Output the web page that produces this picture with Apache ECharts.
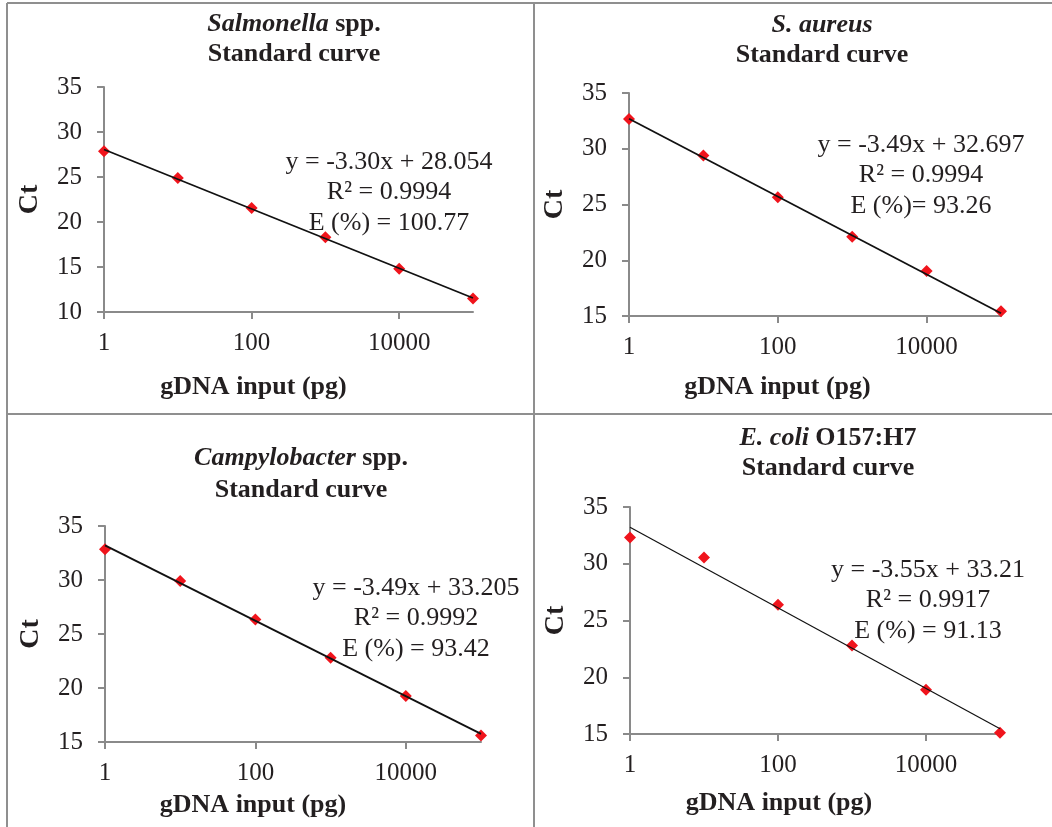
<!DOCTYPE html>
<html>
<head>
<meta charset="utf-8">
<script src="https://cdn.jsdelivr.net/npm/echarts@6/dist/echarts.min.js"></script>
<style>
html,body{margin:0;padding:0;background:#fff;}
#chart{width:1052px;height:827px;}
</style>
</head>
<body>
<div id="chart"></div>
<script>
// gDNA input (pg) levels
var inputs = [1, 10, 100, 1000, 10000, 100000];
var xTickLabels = ['1', '100', '10000'];

// Ct values
var ctSalmonella = [27.85, 24.89, 21.56, 18.3, 14.8, 11.5];
var ctAureus = [32.66, 29.4, 25.66, 22.1, 19.04, 15.42];
var ctCampylobacter = [32.84, 29.9, 26.34, 22.8, 19.27, 15.6];
var ctEcoli = [32.32, 30.56, 26.38, 22.8, 18.9, 15.1];

// Trendline Ct at first and last input (from the shown equations)
var trendSalmonella = [28.054, 11.554];
var trendAureus = [32.697, 15.247];
var trendCampylobacter = [33.205, 15.755];
var trendEcoli = [33.21, 15.46];

// Panel titles: [italic part, bold part]
var titles = [
  ['Salmonella', ' spp.'],
  ['S. aureus', ''],
  ['Campylobacter', ' spp.'],
  ['E. coli', ' O157:H7']
];
var equations = [
  ['y = -3.30x + 28.054', 'R² = 0.9994', 'E (%) = 100.77'],
  ['y = -3.49x + 32.697', 'R² = 0.9994', 'E (%)= 93.26'],
  ['y = -3.49x + 33.205', 'R² = 0.9992', 'E (%) = 93.42'],
  ['y = -3.55x + 33.21', 'R² = 0.9917', 'E (%) = 91.13']
];
var yMins = [10, 15, 15, 15];
var yMax = 35;

var FONT = '"Liberation Serif", "Times New Roman", serif';
var TXT = '#231f20';
var AX = '#8a8a8a';

var grids = [
  {left: 104, top: 87, width: 369, height: 225},
  {left: 629, top: 93, width: 372, height: 223},
  {left: 105, top: 526, width: 376, height: 216},
  {left: 630, top: 507, width: 370, height: 227}
];
var xNameGap = [62, 58, 50, 56];
var xNameShift = [70, 75, 80, 72];
var titlePos = [[294, 24, 54], [822, 25, 55], [301, 458, 490], [828, 438, 468]];
var eqPos = [[389, 162], [921, 145], [416, 588], [928, 570]];

var ctSets = [ctSalmonella, ctAureus, ctCampylobacter, ctEcoli];
var trendSets = [trendSalmonella, trendAureus, trendCampylobacter, trendEcoli];

var xAxes = [], yAxes = [], series = [], graphics = [];

function xLabel(v) {
  var s = String(Math.round(v));
  return xTickLabels.indexOf(s) >= 0 ? s : '';
}

for (var i = 0; i < 4; i++) {
  xAxes.push({
    type: 'log', logBase: 100, gridIndex: i, min: 1, max: 100000,
    name: 'gDNA input (pg)', nameLocation: 'middle', nameGap: xNameGap[i],
    nameTextStyle: {fontFamily: FONT, fontWeight: 'bold', fontSize: 26, color: TXT, padding: [0, xNameShift[i], 0, 0]},
    axisLine: {show: true, lineStyle: {color: AX, width: 2}},
    axisTick: {show: true, inside: false, length: 7, lineStyle: {color: AX, width: 2}},
    axisLabel: {fontFamily: FONT, fontSize: 25, color: TXT, margin: 19, formatter: xLabel, showMaxLabel: false},
    splitLine: {show: false}, minorTick: {show: false}
  });
  yAxes.push({
    type: 'value', gridIndex: i, min: yMins[i], max: yMax, interval: 5,
    name: 'Ct', nameLocation: 'middle', nameGap: 60, nameRotate: 90,
    nameTextStyle: {fontFamily: FONT, fontWeight: 'bold', fontSize: 28, color: TXT},
    axisLine: {show: true, lineStyle: {color: AX, width: 2}},
    axisTick: {show: true, inside: false, length: 7, lineStyle: {color: AX, width: 2}},
    axisLabel: {fontFamily: FONT, fontSize: 25, color: TXT, margin: 22},
    splitLine: {show: false}
  });
  var pts = inputs.map(function (x, k) { return [x, ctSets[i][k]]; });
  series.push({
    type: 'scatter', xAxisIndex: i, yAxisIndex: i, data: pts,
    symbol: 'diamond', symbolSize: 12, itemStyle: {color: '#f0141c', opacity: 1}, z: 2
  });
  series.push({
    type: 'line', xAxisIndex: i, yAxisIndex: i,
    data: [[inputs[0], trendSets[i][0]], [inputs[inputs.length - 1], trendSets[i][1]]],
    symbol: 'none', lineStyle: {color: '#111', width: i === 3 ? 1.2 : 1.8}, z: 3, silent: true
  });

  // title
  var tp = titlePos[i];
  var t1 = '{i|' + titles[i][0] + '}' + (titles[i][1] ? '{b|' + titles[i][1] + '}' : '');
  var richT = {
    i: {fontFamily: FONT, fontStyle: 'italic', fontWeight: 'bold', fontSize: 26, fill: TXT},
    b: {fontFamily: FONT, fontWeight: 'bold', fontSize: 26, fill: TXT}
  };
  graphics.push({type: 'text', x: tp[0], y: tp[1], z: 10,
    style: {text: t1, rich: richT, align: 'center', verticalAlign: 'middle', fill: TXT}});
  graphics.push({type: 'text', x: tp[0], y: tp[2], z: 10,
    style: {text: 'Standard curve', fontFamily: FONT, fontWeight: 'bold', fontSize: 26, fill: TXT, align: 'center', verticalAlign: 'middle'}});
  // equations
  var ep = eqPos[i];
  for (var j = 0; j < 3; j++) {
    graphics.push({type: 'text', x: ep[0], y: ep[1] + j * 30.5, z: 10,
      style: {text: equations[i][j], fontFamily: FONT, fontSize: 26, fill: TXT, align: 'center', verticalAlign: 'middle'}});
  }
}

// panel borders
var BC = '#8f8f8f';
[[7, 3, 1052, 3], [7, 3, 7, 827], [7, 414, 1052, 414], [534, 3, 534, 827]].forEach(function (l) {
  graphics.push({type: 'line', shape: {x1: l[0], y1: l[1], x2: l[2], y2: l[3]}, style: {stroke: BC, lineWidth: 2}, z: 1});
});

var chart = echarts.init(document.getElementById('chart'), null, {renderer: 'canvas'});
chart.setOption({
  animation: false,
  backgroundColor: '#fff',
  grid: grids,
  xAxis: xAxes,
  yAxis: yAxes,
  series: series,
  graphic: graphics
});
</script>
</body>
</html>
